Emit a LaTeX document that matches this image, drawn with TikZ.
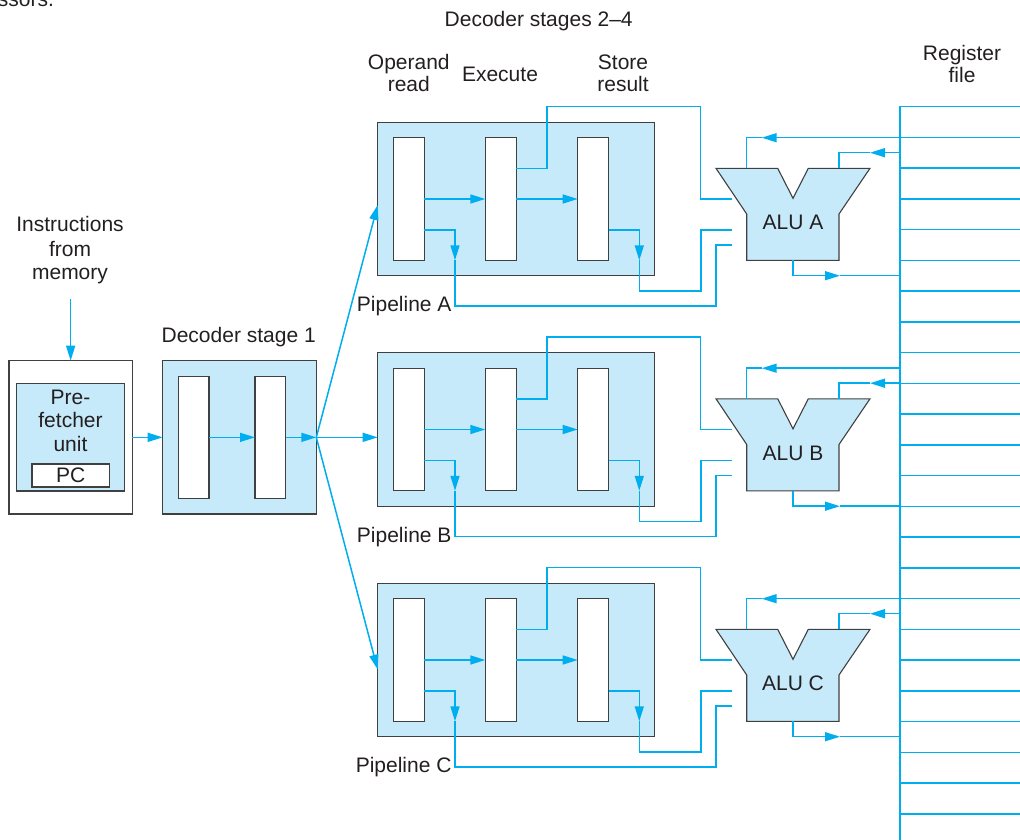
\documentclass[tikz,border=0pt]{standalone}
\usepackage{fontspec}
\setmainfont{Liberation Sans}
\usetikzlibrary{arrows.meta}
\definecolor{paleblue}{RGB}{199,234,250}
\definecolor{wirecyan}{RGB}{0,174,239}
\definecolor{edgegray}{RGB}{64,64,64}
\definecolor{inkgray}{RGB}{35,31,32}
\begin{document}
\begin{tikzpicture}[x=1pt,y=-1pt,
  every node/.style={font=\fontsize{21}{22}\selectfont, text=inkgray, inner sep=0pt, outer sep=0pt},
  bluebox/.style={draw=edgegray, line width=1.1pt, fill=paleblue},
  whitebox/.style={draw=edgegray, line width=1.1pt, fill=white},
  wire/.style={draw=wirecyan, line width=1.5pt},
  arr/.style={wire, -{Triangle[length=15pt,width=9pt]}},
  lbl/.style={anchor=base}
]
\useasboundingbox (0,0) rectangle (1020,840);

% caption fragment
\node[anchor=base east] (capfrag) at (54,7) {essors.};

% headings
\node[lbl] (hdec) at (538.7,26.7) {Decoder stages 2–4};
\node[lbl] (hop1) at (408.8,69.3) {Operand};
\node[lbl] (hop2) at (408.8,91.7) {read};
\node[lbl] (hex) at (500,81.7) {Execute};
\node[lbl] (hst1) at (623,69.3) {Store};
\node[lbl] (hst2) at (623,91.7) {result};
\node[lbl] (hrf1) at (962,61) {Register};
\node[lbl] (hrf2) at (962,83) {file};
\node[lbl] (hin1) at (70,231.7) {Instructions};
\node[lbl] (hin2) at (70,256) {from};
\node[lbl] (hin3) at (70,279.5) {memory};
\node[lbl] (hd1) at (238.7,342.7) {Decoder stage 1};

% prefetcher
\node[whitebox, minimum width=123.3pt, minimum height=153.3pt] (pref) at (70.65,437.35) {};
\node[bluebox, minimum width=107.6pt, minimum height=107.7pt] (prefin) at (70.5,437.15) {};
\node[lbl] (pf1) at (70.5,404.3) {Pre-};
\node[lbl] (pf2) at (70.5,427.8) {fetcher};
\node[lbl] (pf3) at (70.5,451.5) {unit};
\node[whitebox, minimum width=77.3pt, minimum height=23pt] (pc) at (70.65,475.5) {};
\node[lbl] (pctext) at (70.65,482.3) {PC};

% decoder stage 1
\node[bluebox, minimum width=153.6pt, minimum height=153.3pt] (dec) at (239.5,437.35) {};
\node[whitebox, minimum width=30.7pt, minimum height=122.6pt] (d1) at (193.65,437.35) {};
\node[whitebox, minimum width=30.7pt, minimum height=122.6pt] (d2) at (270.35,437.35) {};

\draw[arr] (70.65,299) -- (pref.north);
\draw[arr] (pref.east) -- (dec.west);
\draw[arr] (d1.east) -- (d2.west);
\draw[arr] (d2.east) -- (dec.east);

% register file comb
\draw[wire] (1020,106.7) -- (900,106.7) -- (900,840);
\foreach \i in {1,...,23}
  \draw[wire] (900,{106.7+30.75*\i}) -- (1020,{106.7+30.75*\i});

% pipelines
\foreach \k/\L in {0/A,1/B,2/C}{
  \pgfmathsetmacro{\dy}{230.5*\k}
  \begin{scope}[shift={(0,\dy)}]
    \node[bluebox, minimum width=277pt, minimum height=153.4pt] (pipe\L) at (516.2,199) {};
    \node[whitebox, minimum width=31pt, minimum height=122.6pt] (ra\L) at (408.8,199) {};
    \node[whitebox, minimum width=31pt, minimum height=122.6pt] (rb\L) at (500.8,199) {};
    \node[whitebox, minimum width=31pt, minimum height=122.6pt] (rc\L) at (593.2,199) {};
    \draw[arr] (ra\L.east) -- (rb\L.west);
    \draw[arr] (rb\L.east) -- (rc\L.west);
    \path[bluebox] (716,168.3) -- (777.7,168.3) -- (793,198.3) -- (808.3,168.3) -- (870,168.3)
      -- (839,214) -- (839,260.3) -- (746.7,260.3) -- (746.7,214) -- cycle;
    \node (alu\L) at (793,222.5) {ALU \L};
    \node[anchor=base east] (lab\L) at (451.5,311.7) {Pipeline \L};
    % result feedback
    \draw[wire] (516.3,168.3) -- (547,168.3) -- (547,106.7) -- (700.7,106.7) -- (700.7,199) -- (731.7,199);
    \draw[arr] (424.3,230) -- (455,230) -- (455,260.3);
    \draw[wire] (455,260.3) -- (455,306) -- (716,306) -- (716,245) -- (731.7,245);
    \draw[arr] (608.7,230) -- (639.3,230) -- (639.3,260.3);
    \draw[wire] (639.3,260.3) -- (639.3,291) -- (701,291) -- (701,230) -- (731.7,230);
    % register inputs and output
    \draw[arr] (900,137.7) -- (761.7,137.7);
    \draw[wire] (761.7,137.7) -- (746.7,137.7) -- (746.7,168.3);
    \draw[arr] (900,152.7) -- (870,152.7);
    \draw[wire] (870,152.7) -- (839,152.7) -- (839,168.3);
    \draw[arr] (793,260.3) -- (793,275.7) -- (840,275.7);
    \draw[wire] (840,275.7) -- (900,275.7);
  \end{scope}
}

% fan-out from decoder stage 1
\coordinate (fan) at (dec.east);
\draw[arr] (fan) -- (377.7,205);
\draw[arr] (fan) -- (pipeB.west |- fan);
\draw[arr] (fan) -- (377.7,669.6);
\end{tikzpicture}
\end{document}
